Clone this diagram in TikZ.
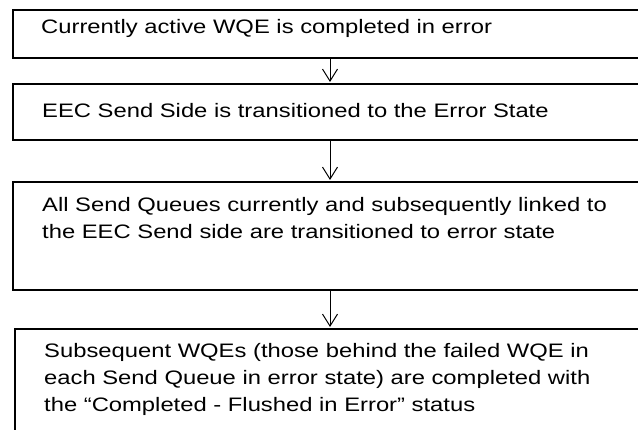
\documentclass[tikz,border=0pt]{standalone}
\usepackage{fontspec}
\setmainfont{Liberation Sans}[FakeStretch=1.22]
\usetikzlibrary{arrows.meta}
\begin{document}
\begin{tikzpicture}[x=1pt,y=1pt,
  box/.style={draw, line width=1.8pt, rectangle, anchor=north west, inner sep=0pt, minimum width=700pt},
  txt/.style={anchor=base west, inner sep=0pt, align=left, font=\fontsize{19.5}{27}\selectfont},
  flow/.style={line width=1pt, shorten >=1pt, -{Straight Barb[length=12pt,width=15pt]}}]
\clip (0,0) rectangle (638,-430);
\node[box, minimum height=48pt] (b1) at (12,-9) {};
\node[box, minimum height=56pt] (b2) at (12,-83) {};
\node[box, minimum height=108pt] (b3) at (12,-181) {};
\node[box, minimum height=140pt] (b4) at (14,-328) {};
\coordinate (ax) at (330,0);
% anchor "base" of a multi-line node is the baseline of its last line
\node[txt] (t1) at (41,-34) {Currently active WQE is completed in error};
\node[txt] (t2) at (42,-118) {EEC Send Side is transitioned to the Error State};
\node[txt] (t3) at (42,-239) {All Send Queues currently and subsequently linked to\\the EEC Send side are transitioned to error state};
\node[txt] (t4) at (44,-412) {Subsequent WQEs (those behind the failed WQE in\\each Send Queue in error state) are completed with\\the “Completed - Flushed in Error” status};
\draw[flow] (b1.south -| ax) -- (b2.north -| ax);
\draw[flow] (b2.south -| ax) -- (b3.north -| ax);
\draw[flow] (b3.south -| ax) -- (b4.north -| ax);
\end{tikzpicture}
\end{document}
